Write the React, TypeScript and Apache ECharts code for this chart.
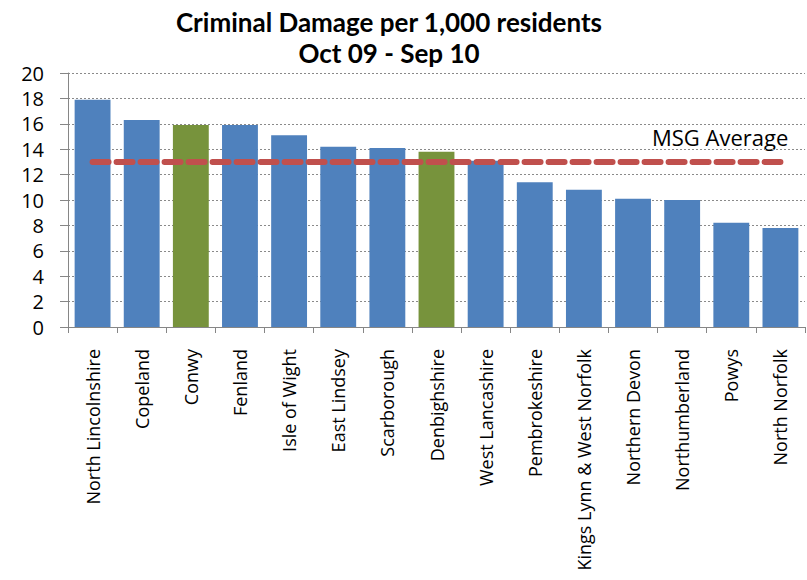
import React, { useEffect, useRef } from "react";
import * as echarts from "echarts";

const categories = [
  "North Lincolnshire",
  "Copeland",
  "Conwy",
  "Fenland",
  "Isle of Wight",
  "East Lindsey",
  "Scarborough",
  "Denbighshire",
  "West Lancashire",
  "Pembrokeshire",
  "Kings Lynn & West Norfolk",
  "Northern Devon",
  "Northumberland",
  "Powys",
  "North Norfolk",
];
const values = [17.9, 16.3, 15.9, 15.9, 15.1, 14.2, 14.1, 13.8, 13.1, 11.4, 10.8, 10.1, 10.0, 8.2, 7.8];
const highlighted = ["Conwy", "Denbighshire"];
const msgAverage = [13, 13, 13, 13, 13, 13, 13, 13, 13, 13, 13, 13, 13, 13, 13];
const yTicks = [0, 2, 4, 6, 8, 10, 12, 14, 16, 18, 20];

const BLUE = "#4F81BD";
const GREEN = "#77933C";
const RED = "#C0504D";

export default function App() {
  const ref = useRef<HTMLDivElement>(null);
  useEffect(() => {
    document.body.style.margin = "0";
    if (!ref.current) return;
    const chart = echarts.init(ref.current, null, { renderer: "svg" });
    chart.setOption({
      animation: false,
      backgroundColor: "#ffffff",
      title: {
        text: "Criminal Damage per 1,000 residents\nOct 09 - Sep 10",
        left: 384,
        top: 1,
        textAlign: "center",
        textStyle: {
          fontFamily: "Lato",
          fontWeight: "bold",
          fontSize: 26,
          lineHeight: 31,
          color: "#000",
        },
      },
      graphic: [
        {
          type: "text",
          left: 652,
          top: 126,
          style: {
            text: "MSG Average",
            fontFamily: "Open Sans",
            fontSize: 22,
            fill: "#000",
          },
        },
      ],
      grid: { left: 68, right: 2, top: 73, bottom: 253, containLabel: false },
      xAxis: {
        type: "category",
        data: categories,
        boundaryGap: true,
        axisLine: { lineStyle: { color: "#868686", width: 1 } },
        axisTick: { show: true, length: 6, alignWithLabel: false, lineStyle: { color: "#868686" } },
        axisLabel: {
          rotate: 90,
          interval: 0,
          margin: 22,
          fontFamily: "Open Sans",
          fontSize: 18,
          color: "#000",
        },
      },
      yAxis: {
        type: "value",
        min: yTicks[0],
        max: yTicks[yTicks.length - 1],
        interval: 2,
        axisLine: { show: true, lineStyle: { color: "#868686", width: 1 } },
        axisTick: { show: true, length: 8, lineStyle: { color: "#868686" } },
        axisLabel: {
          fontFamily: "Open Sans",
          fontSize: 20,
          lineHeight: 20,
          color: "#000",
          margin: 24,
        },
        splitLine: { show: true, lineStyle: { color: "#8a8a8a", type: [2, 2], width: 1 } },
      },
      series: [
        {
          type: "bar",
          data: values.map((v, i) => ({
            value: v,
            itemStyle: { color: highlighted.includes(categories[i]) ? GREEN : BLUE },
          })),
          barCategoryGap: "27%",
        },
        {
          type: "line",
          data: msgAverage,
          symbol: "none",
          lineStyle: { color: RED, width: 6, type: [16, 8], cap: "round" },
          z: 5,
        },
      ],
    });
    return () => chart.dispose();
  }, []);
  return <div ref={ref} style={{ width: 807, height: 580 }} />;
}
